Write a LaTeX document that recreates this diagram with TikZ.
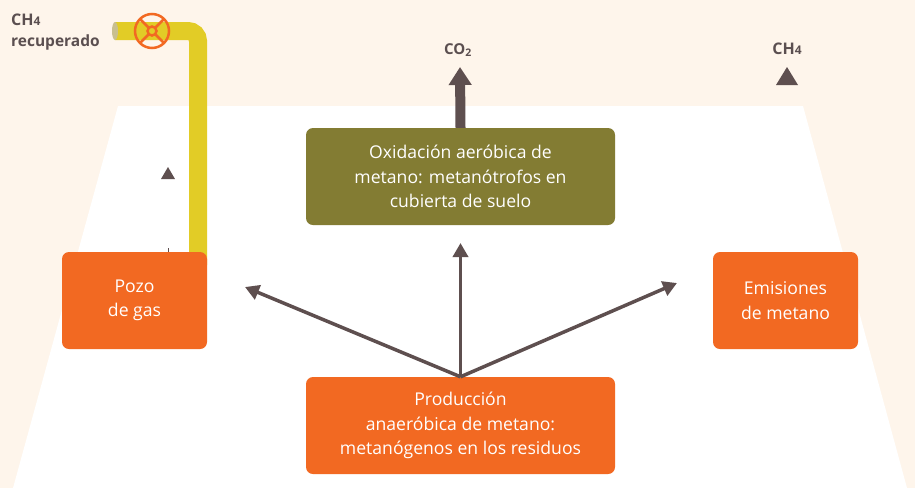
\documentclass[tikz,border=0pt]{standalone}
\usepackage{fontspec}
\setmainfont{Open Sans}
\usetikzlibrary{arrows.meta,calc}
\definecolor{cream}{HTML}{FEF5EB}
\definecolor{orangebox}{HTML}{F26922}
\definecolor{olivebox}{HTML}{837C33}
\definecolor{arrowc}{HTML}{5E4F4F}
\definecolor{pipec}{HTML}{E2CC26}
\definecolor{capc}{HTML}{C9BF8E}
\definecolor{labelc}{HTML}{5B4F50}
\begin{document}
\begin{tikzpicture}[x=1pt,y=-1pt,
  box/.style={rounded corners=7pt, fill=orangebox, text=white, align=center, inner sep=0pt,
    font=\fontsize{17.6}{24.5}\selectfont},
  smallbox/.style={box, minimum width=145pt, minimum height=97pt},
  widebox/.style={box, minimum width=309pt, minimum height=97pt},
  link/.style={draw=arrowc, line width=3.5pt, -{Triangle[length=14pt,width=15pt]}},
  bigarrow/.style={draw=arrowc, line width=10pt, -{Triangle[length=18pt,width=22pt]}},
  lbl/.style={text=labelc, inner sep=0pt, font=\bfseries\fontsize{16}{18}\selectfont},
  valve/.style={draw=orangebox, line width=2.5pt}]
\useasboundingbox (0,0) rectangle (915,488);
\fill[cream] (0,0) rectangle (915,488);
\fill[white] (118,106) -- (803,106) -- (907,488) -- (13,488) -- cycle;
% pipe
\draw[pipec, line width=18pt, rounded corners=10pt] (115,31) -- (198,31) -- (198,265);
\fill[capc] (115,31) ellipse (3 and 9);
% valve
\coordinate (vc) at (152,31);
\filldraw[valve, fill=pipec] (vc) circle (4.5);
\draw[valve] (vc) circle (17);
\foreach \a in {45,135,225,315}{
  \draw[valve] ($(vc)+(\a:4.5)$) -- ($(vc)+(\a:17)$);
}
% labels
\node[lbl, anchor=base west] (ch4a) at (11,25) {CH{\fontsize{12}{12}\selectfont 4}};
\node[lbl, anchor=base west, font=\bfseries\fontsize{15.5}{16}\selectfont] (recup) at (11,46) {recuperado};
\node[lbl, font=\bfseries\fontsize{15}{16}\selectfont] (co2) at (458,50) {CO\textsubscript{2}};
\node[lbl] (ch4b) at (787,49) {CH{\fontsize{12}{12}\selectfont 4}};
% triangles
\fill[arrowc] (776,85) -- (798,85) -- (787,67) -- cycle;
\fill[arrowc] (161,179) -- (175,179) -- (168,167) -- cycle;
\draw[arrowc, line width=0.7pt] (168,248) -- (168,253);
% boxes
\node[smallbox] (pozo) at (134.5,300.5) {Pozo\\de gas};
\node[smallbox] (emis) at (785.5,300.5) {Emisiones\\de metano};
\node[widebox, fill=olivebox] (oxid) at (460.5,176.5) {Oxidación aeróbica de\\metano: metanótrofos en\\cubierta de suelo};
\node[widebox] (prod) at (460.5,425.5) {Producción\\anaeróbica de metano:\\metanógenos en los residuos};
% arrows
\coordinate (tipup) at (460.5,243);
\coordinate (tipl) at (245,287);
\coordinate (tipr) at (677,283);
\coordinate (tipco2) at (460,67);
\draw[link] (prod.north) -- (tipup);
\draw[link] (prod.north) -- (tipl);
\draw[link] (prod.north) -- (tipr);
\draw[bigarrow] (oxid.north) -- (tipco2);
\end{tikzpicture}
\end{document}
